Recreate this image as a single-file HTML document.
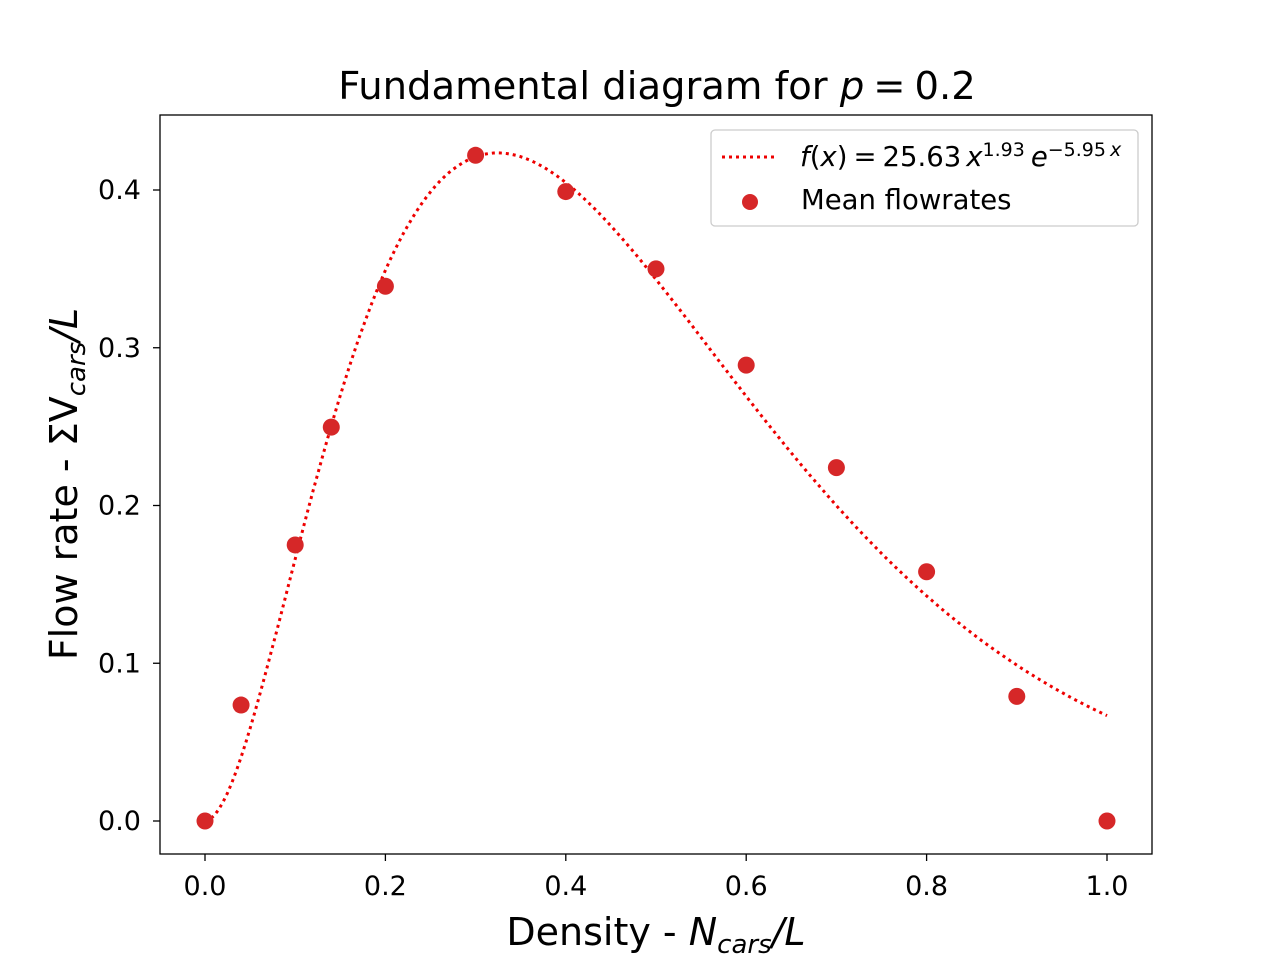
<!DOCTYPE html>
<html><head><meta charset="utf-8"><style>
body{margin:0;background:#fff;}
svg text{font-family:"DejaVu Sans","Liberation Sans",sans-serif;fill:#000;}
</style></head><body>
<svg id="chart" width="1280" height="960" xmlns="http://www.w3.org/2000/svg">
<rect width="1280" height="960" fill="#fff"/>
<text x="657" y="99" font-size="38.5" text-anchor="middle">Fundamental diagram for <tspan font-style="italic">p</tspan><tspan dx="9">=</tspan><tspan dx="9">0.2</tspan></text>
<g id="plot"></g>
<rect x="160" y="115" width="992" height="739" fill="none" stroke="#000" stroke-width="1.3"/>
<text x="656" y="945" font-size="38" text-anchor="middle">Density - <tspan font-style="italic">N</tspan><tspan font-style="italic" font-size="26" dy="8">cars</tspan><tspan dy="-8" font-style="italic">/L</tspan></text>
<text transform="translate(77,484) rotate(-90)" font-size="38" text-anchor="middle">Flow rate - ΣV<tspan font-style="italic" font-size="26" dy="8">cars</tspan><tspan dy="-8" font-style="italic">/L</tspan></text>
<g>
<rect x="711" y="130" width="427" height="96" rx="4" fill="#fff" stroke="#ccc" stroke-width="1.3"/>
<line x1="722" y1="157" x2="778" y2="157" stroke="#e00" stroke-width="3" stroke-dasharray="3,4"/>
<text x="800" y="166" font-size="27.5"><tspan font-style="italic">f</tspan>(<tspan font-style="italic">x</tspan>)<tspan dx="6">=</tspan><tspan dx="6">25.63</tspan><tspan dx="5" font-style="italic">x</tspan><tspan font-size="19" dy="-10">1.93</tspan><tspan dx="6" dy="10" font-style="italic">e</tspan><tspan font-size="19" dy="-10">−5.95<tspan dx="4" font-style="italic">x</tspan></tspan></text>
<circle cx="750" cy="202" r="8" fill="#d62728"/>
<text x="801" y="209" font-size="27.5">Mean flowrates</text>
</g>
</svg>
<script>
const densities=[0,0.04,0.1,0.14,0.2,0.3,0.4,0.5,0.6,0.7,0.8,0.9,1.0];
const flowrates=[0,0.0735,0.175,0.2497,0.339,0.422,0.399,0.35,0.289,0.224,0.158,0.079,0];
const fitParams=[25.63,1.93,-5.95];
const xTicks=[0,0.2,0.4,0.6,0.8,1.0];
const yTicks=[0,0.1,0.2,0.3,0.4];
const NS="http://www.w3.org/2000/svg";
const X=v=>205+v*902;
const Y=v=>821-v*1577.5;
const g=document.getElementById('plot');
function mk(t,a){const e=document.createElementNS(NS,t);for(const k in a)e.setAttribute(k,a[k]);g.appendChild(e);return e;}
xTicks.forEach(t=>{
 const l=mk('line',{x1:X(t),x2:X(t),y1:854,y2:861,stroke:'#000','stroke-width':1.3});
 
 
 const s=mk('text',{x:X(t),y:895,'font-size':27,'text-anchor':'middle'});
 s.textContent=t.toFixed(1);
 
 
});
yTicks.forEach(t=>{
 const l=mk('line',{x1:153,x2:160,y1:Y(t),y2:Y(t),stroke:'#000','stroke-width':1.3});
 
 
 const s=mk('text',{x:141,y:Y(t)+9,'font-size':27,'text-anchor':'end'});
 s.textContent=t.toFixed(1);
 
 
});
let d='';
for(let i=0;i<=200;i++){const x=i/200;const y=fitParams[0]*Math.pow(x,fitParams[1])*Math.exp(fitParams[2]*x);d+=(i?'L':'M')+X(x).toFixed(1)+','+Y(y).toFixed(1);}
const p=mk('path',{d:d,fill:'none',stroke:'#e00','stroke-width':3,'stroke-dasharray':'3,4'});


densities.forEach((x,i)=>{
 const c=mk('circle',{cx:X(x),cy:Y(flowrates[i]),r:8.5,fill:'#d62728'});
 
 
});
</script>
</body></html>
